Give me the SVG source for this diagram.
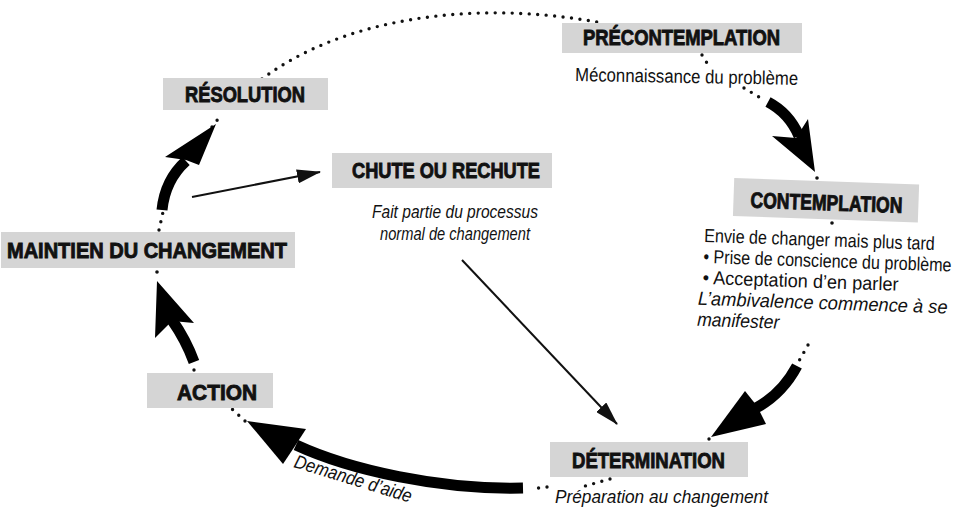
<svg xmlns="http://www.w3.org/2000/svg" width="961" height="517" viewBox="0 0 961 517">
<style>
.box{fill:#d5d5d5}
.h{font-family:"Liberation Sans Narrow","Liberation Sans",Arial,sans-serif;font-weight:bold;font-size:22px;fill:#111;stroke:#111;stroke-width:0.9}
.t{font-family:"Liberation Sans Narrow","Liberation Sans",Arial,sans-serif;font-size:19px;fill:#111}
.i{font-style:italic}
.dot{fill:none;stroke:#111;stroke-width:3.4;stroke-linecap:round;stroke-dasharray:0 8.5}
.shaft{fill:none;stroke:#000;stroke-width:11}
.head{fill:#000}
.thin{fill:none;stroke:#111;stroke-width:2}
.d{fill:#111}
</style>
<defs>
<marker id="ah" markerUnits="userSpaceOnUse" markerWidth="24" markerHeight="14" refX="23" refY="7" orient="auto">
<path d="M0,0 L24,7 L0,14 z" fill="#111"/>
</marker>
</defs>
<rect width="961" height="517" fill="#fff"/>

<g id="connectors">
<path class="dot" d="M262,79 C340,20 470,-2 602,23"/>
<path class="dot" d="M702,55 L707,63"/>
<path class="dot" d="M744,88 L764,100"/>
<circle class="d" cx="817" cy="178" r="1.8"/>
<circle class="d" cx="832" cy="223" r="1.8"/>
<path class="dot" d="M808,345 L799,361"/>
<path class="dot" d="M709,439 L702,444"/>
<path class="dot" d="M610,479 L585,486"/>
<path class="dot" d="M547,487 L531,489"/>
<path class="dot" d="M245,421 L231,408"/>
<path class="dot" d="M194,370 L199,378"/>
<circle class="d" cx="157" cy="272" r="1.8"/>
<path class="dot" d="M159,230 L163,212"/>
<path class="dot" d="M212,127 L221,115"/>

<path class="shaft" d="M768,102 Q789,113 799,136"/>
<polygon class="head" points="815,172 772,136 796,138 808,119"/>

<path class="shaft" d="M797,366 Q782,394 756,408"/>
<polygon class="head" points="711,437 745,391 757,406 766,424"/>

<path class="shaft" d="M523,488 C440,490 350,470 296,445" stroke-width="10"/>
<polygon class="head" points="247,421 306,429 295,446 283,464"/>

<path class="shaft" d="M194,362 Q186,340 172,320" stroke-width="10"/>
<polygon class="head" points="157,281 155,338 172,321 194,323"/>

<path class="shaft" d="M162,210 Q165,180 186,161"/>
<polygon class="head" points="216,124 165,157 186,160 199,165"/>

<path class="thin" d="M192,197 L320,172" marker-end="url(#ah)"/>
<path class="thin" d="M462,260 L617,424" marker-end="url(#ah)"/>
</g>

<g id="precontemplation">
<rect class="box" x="562" y="23" width="240" height="30"/>
<text class="h" x="583" y="45" textLength="197" lengthAdjust="spacingAndGlyphs">PRÉCONTEMPLATION</text>
<text class="t" x="575" y="81" textLength="223" lengthAdjust="spacingAndGlyphs" transform="rotate(1 575 81)">Méconnaissance du problème</text>
</g>

<g id="contemplation" transform="rotate(2 704 242)">
<rect class="box" x="732" y="177" width="185" height="38"/>
<text class="h" x="749" y="206" textLength="152" lengthAdjust="spacingAndGlyphs">CONTEMPLATION</text>
<g transform="translate(704 0) scale(0.83 1)">
<text class="t" x="0" y="242" textLength="278" lengthAdjust="spacingAndGlyphs">Envie de changer mais plus tard</text>
<text class="t" x="0" y="263" textLength="299" lengthAdjust="spacingAndGlyphs">• Prise de conscience du problème</text>
<text class="t" x="0" y="284" textLength="236" lengthAdjust="spacingAndGlyphs">• Acceptation d’en parler</text>
<text class="t i" x="-5" y="305" textLength="301" lengthAdjust="spacingAndGlyphs">L’ambivalence commence à se</text>
<text class="t i" x="-5" y="326" textLength="99" lengthAdjust="spacingAndGlyphs">manifester</text>
</g>
</g>

<g id="determination">
<rect class="box" x="550" y="442" width="198" height="35"/>
<text class="h" x="572" y="468" textLength="153" lengthAdjust="spacingAndGlyphs">DÉTERMINATION</text>
<text class="t i" x="555" y="503" textLength="213" lengthAdjust="spacingAndGlyphs">Préparation au changement</text>
</g>

<g id="action">
<rect class="box" x="147" y="373" width="126" height="35"/>
<text class="h" x="177" y="400" textLength="80" lengthAdjust="spacingAndGlyphs">ACTION</text>
<text class="t i" x="293" y="467" textLength="122" lengthAdjust="spacingAndGlyphs" transform="rotate(17 293 467)">Demande d’aide</text>
</g>

<g id="maintien">
<rect class="box" x="1" y="232" width="294" height="36"/>
<text class="h" x="7" y="258" textLength="280" lengthAdjust="spacingAndGlyphs">MAINTIEN DU CHANGEMENT</text>
</g>

<g id="resolution">
<rect class="box" x="163" y="78" width="165" height="32"/>
<text class="h" x="185" y="102" textLength="120" lengthAdjust="spacingAndGlyphs">RÉSOLUTION</text>
</g>

<g id="chute">
<rect class="box" x="332" y="153" width="220" height="35"/>
<text class="h" x="352" y="178" textLength="188" lengthAdjust="spacingAndGlyphs">CHUTE OU RECHUTE</text>
<text class="t i" x="372" y="218" textLength="166" lengthAdjust="spacingAndGlyphs">Fait partie du processus</text>
<text class="t i" x="380" y="240" textLength="150" lengthAdjust="spacingAndGlyphs">normal de changement</text>
</g>
</svg>
